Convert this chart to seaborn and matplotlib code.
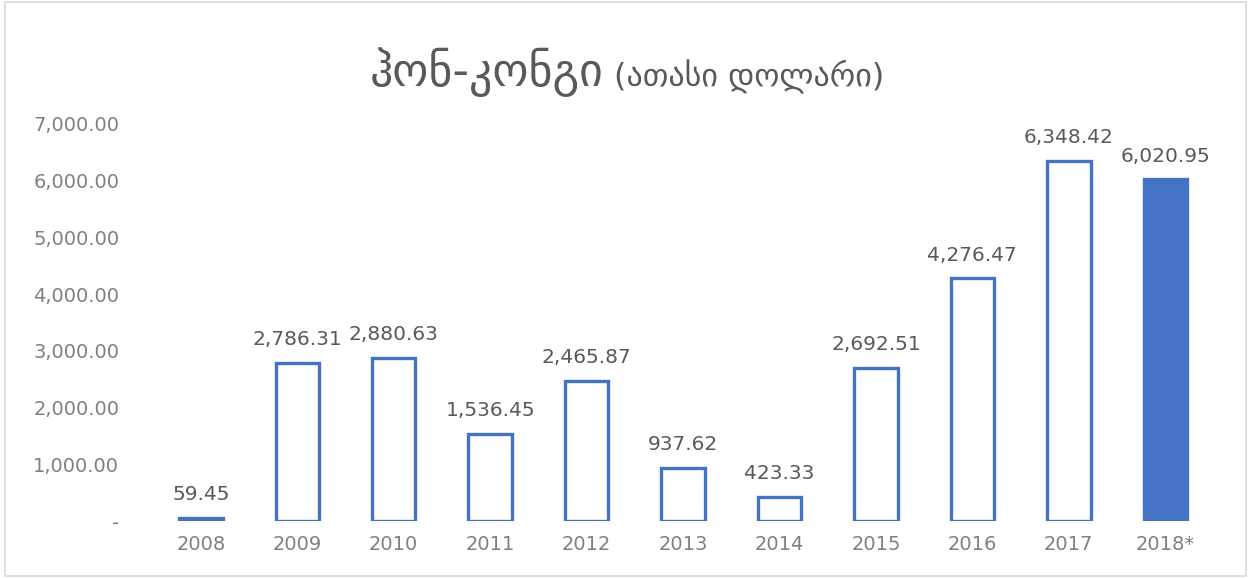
import matplotlib
matplotlib.use('Agg')
import matplotlib.pyplot as plt
import seaborn as sns
import pandas as pd

# dados do gráfico
anos = ['2008', '2009', '2010', '2011', '2012', '2013', '2014', '2015', '2016', '2017', '2018*']
valores = [59.45, 2786.31, 2880.63, 1536.45, 2465.87, 937.62, 423.33, 2692.51, 4276.47, 6348.42, 6020.95]
preenchidos = ['2008', '2018*']  # barras cheias
yticks = [0, 1000, 2000, 3000, 4000, 5000, 6000, 7000]

azul = '#4472C4'
sns.set_style('white')
plt.rcParams['font.family'] = ['DejaVu Sans']

df = pd.DataFrame({'ano': anos, 'valor': valores})

fig = plt.figure(figsize=(12.51, 5.78), dpi=100)
ax = fig.add_axes([0.122, 0.0986, 0.848, 0.687])

sns.barplot(x='ano', y='valor', data=df, color='white', edgecolor=azul,
            linewidth=2.4, width=0.45, ax=ax, saturation=1)

for p, ano in zip(ax.patches, anos):
    if ano in preenchidos:
        p.set_facecolor(azul)

ax.bar_label(ax.containers[0], labels=[f'{v:,.2f}' for v in valores],
             padding=10, fontsize=14.5, color='#595959')

ax.set_ylim(0, 7000)
ax.set_yticks(yticks)
ax.set_yticklabels(['-' if t == 0 else f'{t:,.2f}' for t in yticks])
ax.set_xlabel('')
ax.set_ylabel('')
ax.tick_params(axis='both', length=0, labelsize=14, labelcolor='#808080')
ax.tick_params(axis='y', pad=38 - 14)
ax.tick_params(axis='x', pad=10)
sns.despine(ax=ax, left=True, bottom=True)

# título em duas partes
fig.text(604 / 1251, 1 - 86 / 578, 'ჰონ-კონგი', fontsize=33, color='#595959',
         ha='right', va='baseline')
fig.text(614 / 1251, 1 - 86 / 578, '(ათასი დოლარი)', fontsize=23, color='#595959',
         ha='left', va='baseline')

# moldura
fig.patches.append(plt.Rectangle((0.004, 0.003), 0.992, 0.994, transform=fig.transFigure,
                                 fill=False, edgecolor='#d9d9d9', linewidth=1.2))

fig.savefig('out.png', dpi=100)
